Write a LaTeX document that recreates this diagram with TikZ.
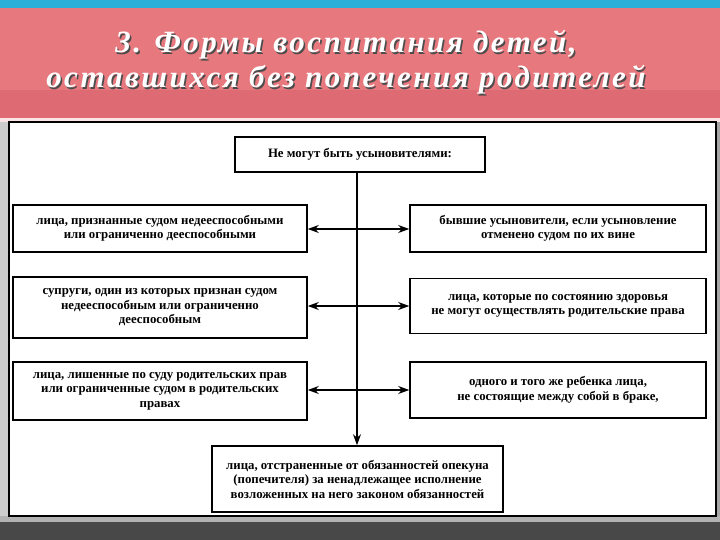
\documentclass[tikz,border=0pt]{standalone}
\usepackage{fontspec}
\setmainfont{Liberation Serif}
\usetikzlibrary{arrows.meta}
\definecolor{banner}{HTML}{E6787E}
\definecolor{bannerdark}{HTML}{D8606E}
\definecolor{topstrip}{HTML}{2AB0D8}
\definecolor{bottomdark}{HTML}{484848}
\tikzset{
  box/.style={draw=black, line width=1.6pt, fill=white, align=center, inner sep=2pt,
    font=\fontsize{12.8}{14.5}\selectfont\bfseries},
  conn/.style={line width=1.3pt, -{Stealth[length=11pt,width=8pt]}},
  ttl/.style={font=\fontsize{31}{35}\selectfont\itshape\bfseries, align=center}
}
\begin{document}
\begin{tikzpicture}[x=1pt,y=-1pt]
\useasboundingbox (0,0) rectangle (720,540);
\fill[topstrip] (0,0) rectangle (720,8);
\fill[banner] (0,8) rectangle (720,118);
\fill[bannerdark!60!banner] (0,90) rectangle (720,118);
\fill[white!80!banner] (0,118) rectangle (720,122);
\fill[gray!40] (0,122) rectangle (8,520);
\fill[gray!70] (716,122) rectangle (720,520);
\fill[gray!60] (0,516) rectangle (720,522);
\fill[bottomdark] (0,522) rectangle (720,540);
\draw[line width=2pt, fill=white] (9,122) rectangle (716,516);
% title with shadow
\node[ttl, text=black!70] (tshadow) at (347.5,64) {\addfontfeature{LetterSpace=8}3. Формы воспитания детей,\\\addfontfeature{LetterSpace=8}оставшихся без попечения родителей};
\node[ttl, text=white] (title) at (346,62.5) {\addfontfeature{LetterSpace=8}3. Формы воспитания детей,\\\addfontfeature{LetterSpace=8}оставшихся без попечения родителей};
% boxes
\node[box, minimum width=250pt, minimum height=35pt] (top) at (360,154.5) {Не могут быть усыновителями:};
\node[box, minimum width=294pt, minimum height=47pt] (l1) at (160,228.5) {лица, признанные судом недееспособными\\или ограниченно дееспособными};
\node[box, minimum width=296pt, minimum height=47pt] (r1) at (558,228.5) {бывшие усыновители, если усыновление\\отменено судом по их вине};
\node[box, minimum width=294pt, minimum height=61pt] (l2) at (160,307.5) {супруги, один из которых признан судом\\недееспособным или ограниченно\\дееспособным};
\node[box, minimum width=296pt, minimum height=55pt] (r2) at (558,306) {лица, которые по состоянию здоровья\\не могут осуществлять родительские права};
\node[box, minimum width=294pt, minimum height=58pt] (l3) at (160,391) {лица, лишенные по суду родительских прав\\или ограниченные судом в родительских\\правах};
\node[box, minimum width=296pt, minimum height=56pt] (r3) at (558,390) {одного и того же ребенка лица,\\не состоящие между собой в браке,};
\node[box, minimum width=291pt, minimum height=66pt] (bot) at (357.5,479) {лица, отстраненные от обязанностей опекуна\\(попечителя) за ненадлежащее исполнение\\возложенных на него законом обязанностей};
% connectors
\draw[conn] (top.south -| 357,0) -- (bot.north -| 357,0);
\coordinate (j1) at (357,229);
\coordinate (j2) at (357,306);
\coordinate (j3) at (357,390);
\draw[conn] (j1) -- (j1 -| l1.east);
\draw[conn] (j1) -- (j1 -| r1.west);
\draw[conn] (j2) -- (j2 -| l2.east);
\draw[conn] (j2) -- (j2 -| r2.west);
\draw[conn] (j3) -- (j3 -| l3.east);
\draw[conn] (j3) -- (j3 -| r3.west);
\end{tikzpicture}
\end{document}
